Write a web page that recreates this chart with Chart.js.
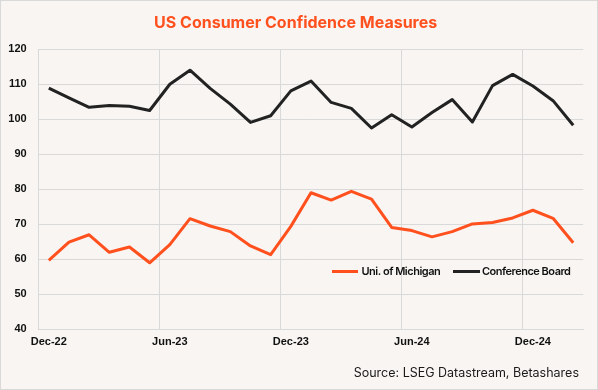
<!DOCTYPE html>
<html>
<head>
<meta charset="utf-8">
<script src="https://cdn.jsdelivr.net/npm/chart.js@4"></script>
<style>
  html, body { margin: 0; padding: 0; background: #f8f5f2; }
  #wrap { width: 598px; height: 390px; }
</style>
</head>
<body>
<div id="wrap"><canvas id="confidence_chart" width="598" height="390"></canvas></div>
<script>
// monthly readings, Dec-22 .. Feb-25
const months = ['Dec-22','Jan-23','Feb-23','Mar-23','Apr-23','May-23','Jun-23','Jul-23','Aug-23',
  'Sep-23','Oct-23','Nov-23','Dec-23','Jan-24','Feb-24','Mar-24','Apr-24','May-24','Jun-24',
  'Jul-24','Aug-24','Sep-24','Oct-24','Nov-24','Dec-24','Jan-25','Feb-25'];
const michigan = [59.7, 64.9, 67.0, 62.0, 63.5, 59.0, 64.2, 71.6, 69.5, 67.9, 63.8, 61.3, 69.4,
  79.0, 76.9, 79.4, 77.2, 69.1, 68.2, 66.4, 67.9, 70.1, 70.5, 71.8, 74.0, 71.7, 64.7];
const conference = [108.9, 106.1, 103.4, 103.9, 103.7, 102.5, 110.0, 114.0, 108.8, 104.3, 99.1, 101.0, 108.1,
  110.9, 104.8, 103.1, 97.5, 101.3, 97.8, 101.9, 105.6, 99.2, 109.6, 112.8, 109.5, 105.3, 98.3];
const y_ticks = [40, 50, 60, 70, 80, 90, 100, 110, 120];
const label_every = 6;

//colours
const orange = 'rgb(255, 80, 30)';
const black = 'rgb(34, 34, 34)';
const grid = 'rgb(217, 217, 217)';
const bg = 'rgb(248, 245, 242)';

const chart_bg = {
  id: 'chart_bg',
  beforeDraw(chart) {
    const c = chart.ctx;
    c.save();
    c.fillStyle = bg;
    c.fillRect(0, 0, chart.width, chart.height);
    c.strokeStyle = grid;
    c.lineWidth = 1;
    c.strokeRect(0.5, 0.5, chart.width - 1, chart.height - 1);
    c.restore();
  }
};

// legend sits inside the plot, plus the source line
const inner_legend = {
  id: 'inner_legend',
  afterDraw(chart) {
    const c = chart.ctx;
    const spots = [{x0: 332, x1: 358, tx: 361.5}, {x0: 453, x1: 480, tx: 482}];
    const y = 271.5;
    c.save();
    chart.data.datasets.forEach((ds, i) => {
      const s = spots[i];
      c.strokeStyle = ds.borderColor;
      c.lineWidth = 3;
      c.beginPath();
      c.moveTo(s.x0, y);
      c.lineTo(s.x1, y);
      c.stroke();
      c.fillStyle = '#111';
      c.font = '600 11px Inter';
      c.letterSpacing = '-0.5px';
      c.textBaseline = 'middle';
      c.textAlign = 'left';
      c.fillText(ds.label, s.tx, y);
    });
    c.letterSpacing = '0px';
    c.font = '12.5px Inter';
    c.fillStyle = '#1a1a1a';
    c.textAlign = 'right';
    c.textBaseline = 'alphabetic';
    c.fillText('Source: LSEG Datastream, Betashares', 579, 376.5);
    c.restore();
  }
};

new Chart(document.getElementById('confidence_chart'), {
  type: 'line',
  data: {
    labels: months,
    datasets: [
      {
        label: 'Uni. of Michigan',
        data: michigan,
        borderColor: orange,
        backgroundColor: orange,
        borderWidth: 3,
        pointRadius: 0,
        borderJoinStyle: 'round'
      },
      {
        label: 'Conference Board',
        data: conference,
        borderColor: black,
        backgroundColor: black,
        borderWidth: 3,
        pointRadius: 0,
        borderJoinStyle: 'round'
      }
    ]
  },
  options: {
    responsive: false,
    animation: false,
    layout: {
      padding: {left: 8, right: 14.7, top: 10, bottom: 35.5}
    },
    plugins: {
      legend: { display: false },
      tooltip: { enabled: false },
      title: {
        display: true,
        text: 'US Consumer Confidence Measures',
        color: orange,
        font: { family: 'Inter', size: 16, weight: '700' },
        padding: { top: 4, bottom: 16 }
      }
    },
    scales: {
      x: {
        offset: true,
        grid: {
          offset: true,
          drawTicks: false,
          color: ctx => (ctx.index !== undefined && ctx.index % label_every === 0) ? grid : 'rgba(0,0,0,0)'
        },
        border: { color: grid },
        ticks: {
          autoSkip: false,
          maxRotation: 0,
          padding: 6,
          color: '#111',
          font: { family: 'Liberation Sans', size: 11, weight: 'bold' },
          callback: (v, i) => i % label_every === 0 ? months[i] : ''
        }
      },
      y: {
        min: y_ticks[0],
        max: y_ticks[y_ticks.length - 1],
        afterBuildTicks: axis => { axis.ticks = y_ticks.map(v => ({value: v})); },
        afterFit: axis => { axis.width = 30.7; },
        grid: { color: grid, drawTicks: false },
        border: { color: grid },
        ticks: {
          padding: 12,
          color: '#111',
          font: { family: 'Liberation Sans', size: 11, weight: 'bold' }
        }
      }
    }
  },
  plugins: [chart_bg, inner_legend]
});
</script>
</body>
</html>
